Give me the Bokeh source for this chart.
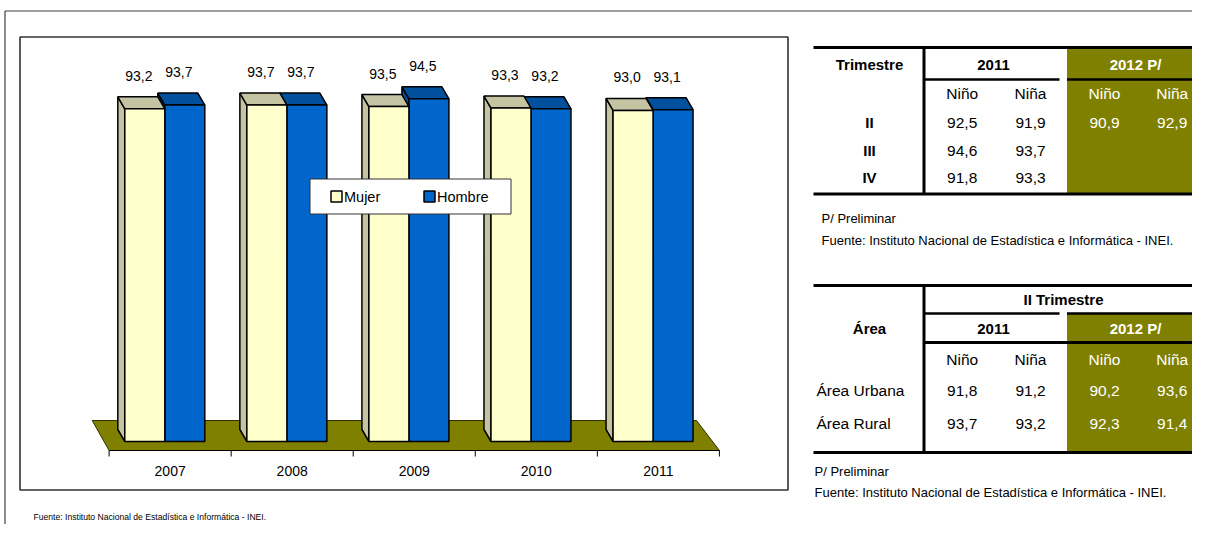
from bokeh.plotting import figure
from bokeh.models import Range1d
from bokeh.core.properties import value
from bokeh.embed import file_html
from bokeh.resources import INLINE

# ---------------- data ----------------
years = ["2007", "2008", "2009", "2010", "2011"]
mujer = [93.2, 93.7, 93.5, 93.3, 93.0]
hombre = [93.7, 93.7, 94.5, 93.2, 93.1]
series_names = ["Mujer", "Hombre"]

t1_head = ["Trimestre", "2011", "2012 P/"]
t1_rows = ["II", "III", "IV"]
t1_nino_2011 = [92.5, 94.6, 91.8]
t1_nina_2011 = [91.9, 93.7, 93.3]
t1_nino_2012 = [90.9, None, None]
t1_nina_2012 = [92.9, None, None]

t2_head = ["Área", "II Trimestre", "2011", "2012 P/"]
t2_rows = ["Área Urbana", "Área Rural"]
t2_nino_2011 = [91.8, 93.7]
t2_nina_2011 = [91.2, 93.2]
t2_nino_2012 = [90.2, 92.3]
t2_nina_2012 = [93.6, 91.4]

col_heads = ["Niño", "Niña", "Niño", "Niña"]
prelim_note = "P/ Preliminar"
source_note = "Fuente: Instituto Nacional de Estadística e Informática - INEI."


def fmt(v):
    return "" if v is None else f"{v:.1f}".replace(".", ",")


FONT = value("Liberation Sans")
OLIVE = "#808000"

# ---------------- figure (pixel space) ----------------
W, H = 1192, 524
p = figure(width=W, height=H, x_range=Range1d(0, W), y_range=Range1d(H, 0),
           output_backend="svg", toolbar_location=None, min_border=0,
           x_axis_type=None, y_axis_type=None)
p.outline_line_color = None
p.background_fill_color = "white"
p.border_fill_color = "white"

# chart scales (category index / percent value)
CAT_X0, CAT_PX = 108.6, 122.06
VAL_Y0, VAL_PX = 441.0, 7.7
VMIN = 50
p.extra_x_ranges = {"cat": Range1d((0 - CAT_X0) / CAT_PX, (W - CAT_X0) / CAT_PX)}
p.extra_y_ranges = {"val": Range1d(VMIN - (H - VAL_Y0) / VAL_PX, VMIN + (VAL_Y0 - 0) / VAL_PX)}
CV = dict(x_range_name="cat", y_range_name="val")

# outer frame and chart box
p.segment(x0=[4.5, 4.5], y0=[10.5, 10.5], x1=[4.5, W], y1=[H, 10.5],
          line_color="#404040", line_width=1.2)
p.quad(left=[19.5], right=[787.5], top=[36.5], bottom=[489.5], fill_color=None,
       line_color="#333333", line_width=1.6)

# floor
n = len(years)
yf = VMIN - 9 / VAL_PX
yb = VMIN + 21 / VAL_PX
p.patch(x=[0, n, n - 22.9 / CAT_PX, -16.9 / CAT_PX], y=[yf, yf, yb, yb],
        fill_color=OLIVE, line_color="#303000", line_width=1, **CV)

# axis ticks + labels
p.segment(x0=list(range(n + 1)), y0=[yf] * (n + 1), x1=list(range(n + 1)),
          y1=[yf - 6 / VAL_PX] * (n + 1), line_color="black", line_width=1, **CV)
p.segment(x0=[0], y0=[yf], x1=[n], y1=[yf], line_color="black", line_width=1, **CV)
p.text(x=[i + 0.5 for i in range(n)], y=[VMIN - 29 / VAL_PX] * n, text=years,
       text_font=FONT, text_font_size="14px", text_align="center",
       text_baseline="middle", text_color="black", **CV)

# 3D bars
bw = 40 / CAT_PX
off = 15.7 / CAT_PX
ddx = -7 / CAT_PX
ddy = 12 / VAL_PX
xs, ys, cols = [], [], []


def box(L, v, front, side, top):
    R = L + bw
    xs.append([L, L + ddx, L + ddx, L]); ys.append([VMIN, VMIN + ddy, v + ddy, v]); cols.append(side)
    xs.append([L, L + ddx, R + ddx, R]); ys.append([v, v + ddy, v + ddy, v]); cols.append(top)
    xs.append([L, R, R, L]); ys.append([VMIN, VMIN, v, v]); cols.append(front)


for i in range(n):
    box(i + off + bw, hombre[i], "#0066CC", "#004C99", "#00509E")
    box(i + off, mujer[i], "#FFFFCC", "#C4C4A2", "#C4C4A2")
p.patches(xs=xs, ys=ys, fill_color=cols, line_color="black", line_width=1.5, **CV)

# value labels
lab_dy = 33 / VAL_PX
lab_dx = -6 / CAT_PX
p.text(x=[i + off + bw / 2 + lab_dx for i in range(n)], y=[v + lab_dy for v in mujer],
       text=[fmt(v) for v in mujer], text_font=FONT, text_font_size="14px",
       text_align="center", text_baseline="middle", text_color="black", **CV)
p.text(x=[i + off + 1.5 * bw + lab_dx for i in range(n)], y=[v + lab_dy for v in hombre],
       text=[fmt(v) for v in hombre], text_font=FONT, text_font_size="14px",
       text_align="center", text_baseline="middle", text_color="black", **CV)

# legend
p.quad(left=[309.5], right=[510.5], top=[178.5], bottom=[213.5], fill_color="white",
       line_color="#333333", line_width=1)
p.quad(left=[330.5, 423.5], right=[341.5, 434.5], top=[190.5, 190.5], bottom=[201.5, 201.5],
       fill_color=["#FFFFCC", "#0066CC"], line_color="black", line_width=1.5)
p.text(x=[343.5, 436.5], y=[196, 196], text=series_names, text_font=FONT,
       text_font_size="14.5px", text_align="left", text_baseline="middle", text_color="black")

# bottom-left source
p.text(x=[33], y=[516], text=[source_note], text_font=FONT, text_font_size="8.6px",
       text_align="left", text_baseline="middle", text_color="black")

# ---------------- table 1 ----------------
TL, TV, TC, TR = 813, 923.5, 1066.5, 1202
colx = [961.7, 1030, 1104, 1171.7]
BIG = "15.5px"
p.quad(left=[TC], right=[TR], top=[47], bottom=[193], fill_color=OLIVE, line_color=None)
p.segment(x0=[TL, TL, TV], y0=[47, 193.5, 47], x1=[TR, TR, TV], y1=[47, 193.5, 193.5],
          line_color="black", line_width=3)
p.segment(x0=[TV, TC], y0=[79, 79], x1=[1059, TR], y1=[79, 79], line_color="black", line_width=2.5)
p.text(x=[869, 993, 1135], y=[64, 64, 64], text=t1_head, text_font=FONT,
       text_font_size="15px", text_font_style="bold", text_align="center",
       text_baseline="middle", text_color=["black", "black", "white"])
p.text(x=colx, y=[93] * 4, text=col_heads, text_font=FONT, text_font_size=BIG,
       text_align="center", text_baseline="middle", text_color=["black", "black", "white", "white"])
r1y = [122, 150, 177]
p.text(x=[869] * 3, y=r1y, text=t1_rows, text_font=FONT, text_font_size="15px",
       text_font_style="bold", text_align="center", text_baseline="middle", text_color="black")
for cx, vals, colr in zip(colx, [t1_nino_2011, t1_nina_2011, t1_nino_2012, t1_nina_2012],
                          ["black", "black", "white", "white"]):
    p.text(x=[cx] * 3, y=r1y, text=[fmt(v) for v in vals], text_font=FONT,
           text_font_size=BIG, text_align="center", text_baseline="middle", text_color=colr)
p.text(x=[821, 821], y=[218, 240], text=[prelim_note, source_note], text_font=FONT,
       text_font_size="13px", text_align="left", text_baseline="middle", text_color="black")

# ---------------- table 2 ----------------
p.quad(left=[TC], right=[TR], top=[313], bottom=[452], fill_color=OLIVE, line_color=None)
p.segment(x0=[TL, TL, TV, TV], y0=[285, 452, 285, 342], x1=[TR, TR, TV, TR], y1=[285, 452, 452, 342],
          line_color="black", line_width=3)
p.segment(x0=[TV, TC], y0=[313, 313], x1=[1059, TR], y1=[313, 313], line_color="black", line_width=2.5)
p.text(x=[869, 1063, 993, 1135], y=[328, 299, 328, 328], text=t2_head, text_font=FONT,
       text_font_size="15px", text_font_style="bold", text_align="center",
       text_baseline="middle", text_color=["black", "black", "black", "white"])
p.text(x=colx, y=[359] * 4, text=col_heads, text_font=FONT, text_font_size=BIG,
       text_align="center", text_baseline="middle", text_color=["black", "black", "white", "white"])
r2y = [390, 423]
p.text(x=[816] * 2, y=r2y, text=t2_rows, text_font=FONT, text_font_size=BIG,
       text_align="left", text_baseline="middle", text_color="black")
for cx, vals, colr in zip(colx, [t2_nino_2011, t2_nina_2011, t2_nino_2012, t2_nina_2012],
                          ["black", "black", "white", "white"]):
    p.text(x=[cx] * 2, y=r2y, text=[fmt(v) for v in vals], text_font=FONT,
           text_font_size=BIG, text_align="center", text_baseline="middle", text_color=colr)
p.text(x=[814, 814], y=[471, 492], text=[prelim_note, source_note], text_font=FONT,
       text_font_size="13px", text_align="left", text_baseline="middle", text_color="black")

open("out.html", "w").write(file_html(p, INLINE))
